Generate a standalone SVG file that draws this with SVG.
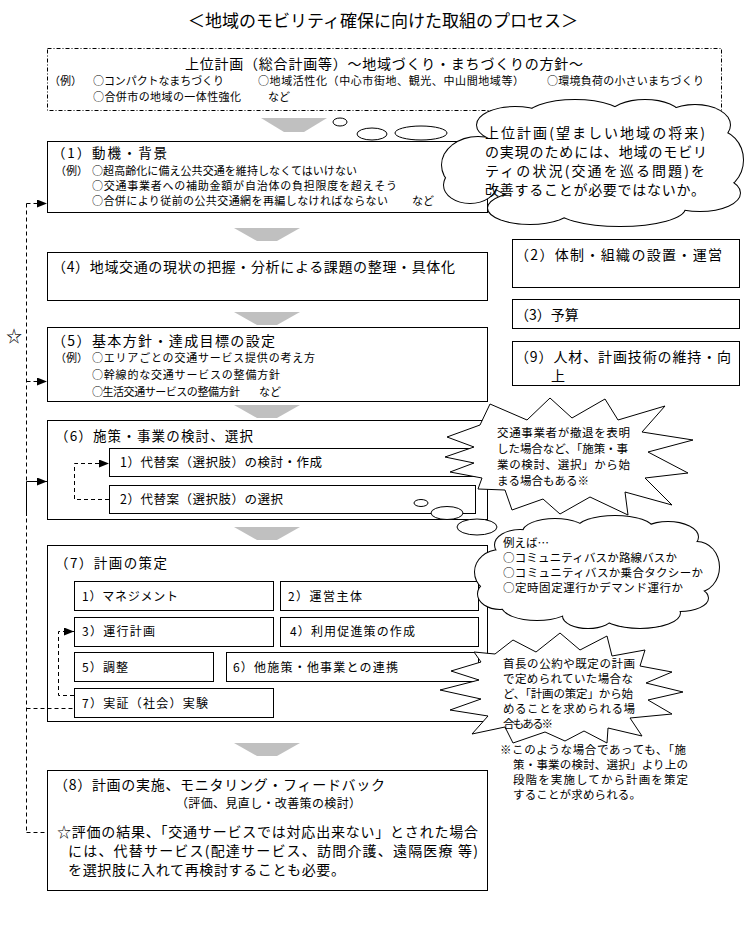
<svg xmlns="http://www.w3.org/2000/svg" xmlns:xlink="http://www.w3.org/1999/xlink" width="753" height="928" viewBox="0 0 753 928">
<defs>
<style>
.t{font-family:"Noto Sans CJK JP","Noto Sans CJK SC",sans-serif;fill:#000}
.box{fill:#fff;stroke:#000;stroke-width:1}
.gray{fill:#c0c0c0}
.dash{fill:none;stroke:#000;stroke-width:1;stroke-dasharray:4 3}
.solid{fill:none;stroke:#000;stroke-width:1}
.h{font-size:13.5px}
.r{font-size:11px}
.s{font-size:12px}
.c{font-size:11.5px}
</style>
<marker id="ah" viewBox="0 0 10 8" refX="10" refY="4" markerWidth="10" markerHeight="8" markerUnits="userSpaceOnUse" orient="auto"><path d="M0,0 L10,4 L0,8 z" fill="#000"/></marker>
<g id="c1shape">
<ellipse cx="478" cy="165" rx="36" ry="28"/>
<ellipse cx="515" cy="125" rx="38" ry="18"/>
<ellipse cx="575" cy="118" rx="50" ry="18"/>
<ellipse cx="645" cy="115" rx="35" ry="15"/>
<ellipse cx="695" cy="125" rx="35" ry="20"/>
<ellipse cx="715" cy="160" rx="28" ry="30"/>
<ellipse cx="700" cy="193" rx="40" ry="18"/>
<ellipse cx="620" cy="208" rx="65" ry="18"/>
<ellipse cx="530" cy="208" rx="42" ry="16"/>
<ellipse cx="470" cy="185" rx="26" ry="18"/>
<ellipse cx="595" cy="163" rx="118" ry="48"/>
</g>
<g id="c2shape">
<ellipse cx="500" cy="572" rx="25" ry="22"/>
<ellipse cx="520" cy="545" rx="25" ry="15"/>
<ellipse cx="555" cy="532" rx="32" ry="13"/>
<ellipse cx="615" cy="529" rx="38" ry="13"/>
<ellipse cx="668" cy="537" rx="30" ry="15"/>
<ellipse cx="697" cy="567" rx="22" ry="25"/>
<ellipse cx="680" cy="598" rx="28" ry="13"/>
<ellipse cx="640" cy="613" rx="40" ry="15"/>
<ellipse cx="588" cy="616" rx="25" ry="12"/>
<ellipse cx="537" cy="606" rx="35" ry="14"/>
<ellipse cx="500" cy="594" rx="22" ry="15"/>
<ellipse cx="597" cy="572" rx="108" ry="38"/>
</g>
</defs>
<rect width="753" height="928" fill="#fff"/>

<text class="t" x="383" y="27" font-size="17" text-anchor="middle">＜地域のモビリティ確保に向けた取組のプロセス＞</text>

<g id="upper-plan">
<rect x="47.5" y="48.5" width="674" height="62" fill="#fff" stroke="#000" stroke-dasharray="4 2 1 2"/>
<text class="t" x="185" y="69" font-size="14" textLength="398">上位計画（総合計画等）～地域づくり・まちづくりの方針～</text>
<text class="t" x="49" y="85" font-size="11">（例）</text>
<text class="t" x="93" y="85" font-size="11" textLength="131">○コンパクトなまちづくり</text>
<text class="t" x="258" y="85" font-size="11" textLength="266">○地域活性化（中心市街地、観光、中山間地域等）</text>
<text class="t" x="547" y="85" font-size="11" textLength="157">○環境負荷の小さいまちづくり</text>
<text class="t" x="93" y="101" font-size="11" textLength="148">○合併市の地域の一体性強化</text>
<text class="t" x="268" y="101" font-size="11">など</text>
</g>

<g id="connectors">
<g id="flow-arrows">
<polygon class="gray" points="261,118 327,118 304,132 284,132"/>
<polygon class="gray" points="234,228 300,228 277,241 257,241"/>
<polygon class="gray" points="234,312 300,312 277,325 257,325"/>
<polygon class="gray" points="234,405 300,405 277,418 257,418"/>
<polygon class="gray" points="234,527 300,527 277,540 257,540"/>
<polygon class="gray" points="234,743 300,743 277,756 257,756"/>
</g>
</g>

<g id="step1">
<rect class="box" x="47.5" y="141.5" width="440" height="71"/>
<text class="t h" x="52" y="158" textLength="115">（1）動機・背景</text>
<text class="t r" x="55" y="175">（例）</text>
<text class="t r" x="92" y="175" textLength="265">○超高齢化に備え公共交通を維持しなくてはいけない</text>
<text class="t r" x="92" y="190" textLength="305">○交通事業者への補助金額が自治体の負担限度を超えそう</text>
<text class="t r" x="92" y="205" textLength="296">○合併により従前の公共交通網を再編しなければならない</text>
<text class="t r" x="412" y="205">など</text>
</g>

<g id="step4">
<rect class="box" x="47.5" y="252.5" width="440" height="48"/>
<text class="t" x="52" y="272" font-size="14" textLength="403">（4）地域交通の現状の把握・分析による課題の整理・具体化</text>
</g>

<g id="step5">
<rect class="box" x="47.5" y="327.5" width="440" height="74"/>
<text class="t" x="52" y="346" font-size="14" textLength="223">（5）基本方針・達成目標の設定</text>
<text class="t r" x="55" y="362">（例）</text>
<text class="t r" x="92" y="362" textLength="223">○エリアごとの交通サービス提供の考え方</text>
<text class="t r" x="92" y="379" textLength="188">○幹線的な交通サービスの整備方針</text>
<text class="t r" x="92" y="396" textLength="148">○生活交通サービスの整備方針</text>
<text class="t r" x="259" y="396">など</text>
</g>

<g id="step6">
<rect class="box" x="47.5" y="420.5" width="440" height="99"/>
<text class="t h" x="55" y="441" textLength="198">（6）施策・事業の検討、選択</text>
<g id="step6-1">
<rect class="box" x="109.5" y="448.5" width="366" height="28"/>
<text class="t" x="120" y="467" font-size="12.5" textLength="202">1）代替案（選択肢）の検討・作成</text>
</g>
<g id="step6-2">
<rect class="box" x="109.5" y="485.5" width="366" height="28"/>
<text class="t" x="120" y="504" font-size="12.5" textLength="163">2）代替案（選択肢）の選択</text>
</g>
</g>

<g id="step7">
<rect class="box" x="47.5" y="545.5" width="440" height="176"/>
<text class="t h" x="55" y="568" textLength="112">（7）計画の策定</text>
<g id="step7-1"><rect class="box" x="74.5" y="581.5" width="199" height="29"/><text class="t s" x="82" y="600.5" textLength="96">1）マネジメント</text></g>
<g id="step7-2"><rect class="box" x="280.5" y="581.5" width="198" height="29"/><text class="t s" x="288" y="600.5" textLength="74">2）運営主体</text></g>
<g id="step7-3"><rect class="box" x="74.5" y="617.5" width="199" height="29"/><text class="t s" x="82" y="636" textLength="73">3）運行計画</text></g>
<g id="step7-4"><rect class="box" x="280.5" y="617.5" width="198" height="29"/><text class="t s" x="290" y="636" textLength="125">4）利用促進策の作成</text></g>
<g id="step7-5"><rect class="box" x="74.5" y="652.5" width="139" height="29"/><text class="t s" x="82" y="671.5" textLength="46">5）調整</text></g>
<g id="step7-6"><rect class="box" x="226.5" y="652.5" width="252" height="29"/><text class="t s" x="233" y="671.5" textLength="165">6）他施策・他事業との連携</text></g>
<g id="step7-7"><rect class="box" x="74.5" y="688.5" width="199" height="29"/><text class="t s" x="82" y="707.5" textLength="126">7）実証（社会）実験</text></g>
</g>

<g id="step8">
<rect class="box" x="47.5" y="770.5" width="440" height="120"/>
<text class="t" x="54" y="790" font-size="14" textLength="331">（8）計画の実施、モニタリング・フィードバック</text>
<text class="t s" x="176" y="808" textLength="185">（評価、見直し・改善策の検討）</text>
<text class="t" x="57" y="837" font-size="14" textLength="421">☆評価の結果、「交通サービスでは対応出来ない」とされた場合</text>
<text class="t" x="68" y="856" font-size="14" textLength="410">には、代替サービス(配達サービス、訪問介護、遠隔医療 等)</text>
<text class="t" x="68" y="875" font-size="14" textLength="277">を選択肢に入れて再検討することも必要。</text>
</g>

<g id="step2">
<rect class="box" x="512.5" y="239.5" width="227" height="48"/>
<text class="t" x="515" y="260" font-size="14" textLength="207">（2）体制・組織の設置・運営</text>
</g>
<g id="step3">
<rect class="box" x="512.5" y="299.5" width="227" height="29"/>
<text class="t" x="515" y="320" font-size="14">（3）予算</text>
</g>
<g id="step9">
<rect class="box" x="512.5" y="341.5" width="227" height="44"/>
<text class="t" x="515" y="362" font-size="14" textLength="216">（9）人材、計画技術の維持・向</text>
<text class="t" x="551" y="381" font-size="14">上</text>
</g>

<g id="feedback-connectors">
<line class="dash" x1="26.5" y1="203.5" x2="26.5" y2="832.5"/>
<line class="solid" x1="26.5" y1="481.5" x2="26.5" y2="516"/>
<line class="dash" x1="26.5" y1="203.5" x2="47" y2="203.5" marker-end="url(#ah)"/>
<line class="dash" x1="26.5" y1="381.5" x2="47" y2="381.5" marker-end="url(#ah)"/>
<line class="solid" x1="26.5" y1="481.5" x2="47" y2="481.5" marker-end="url(#ah)"/>
<line class="dash" x1="26.5" y1="708.5" x2="74" y2="708.5"/>
<line class="dash" x1="26.5" y1="832.5" x2="47" y2="832.5"/>
<path class="dash" d="M109,499.5 H74.5 V463.5 H109" marker-end="url(#ah)"/>
<path class="dash" d="M74,695.5 H58.5 V631.5 H74" marker-end="url(#ah)"/>
</g>
<text id="star" class="t" x="14" y="342" font-size="16" text-anchor="middle">☆</text>

<g id="cloud1">
<ellipse cx="340" cy="122" rx="7" ry="4" fill="#fff" stroke="#000"/>
<ellipse cx="372" cy="134" rx="15" ry="6" fill="#fff" stroke="#000"/>
<ellipse cx="421" cy="133" rx="26" ry="7" fill="#fff" stroke="#000"/>
<use xlink:href="#c1shape" fill="#fff" stroke="#000" stroke-width="2"/>
<use xlink:href="#c1shape" fill="#fff" stroke="none"/>
<text class="t" x="485" y="138" font-size="14" textLength="220">上位計画(望ましい地域の将来)</text>
<text class="t" x="485" y="157" font-size="14" textLength="222">の実現のためには、地域のモビリ</text>
<text class="t" x="485" y="176" font-size="14" textLength="220">ティの状況(交通を巡る問題)を</text>
<text class="t" x="485" y="195" font-size="14" textLength="220">改善することが必要ではないか。</text>
</g>

<g id="burst1">
<polygon fill="#fff" stroke="#000" points="490,404 527,420 550,398 572,418 605,399 618,420 665,406 642,432 693,440 648,452 688,473 645,478 672,505 625,492 628,515 590,497 560,514 543,499 512,510 505,490 478,489 482,478 450,472 474,463 445,457 474,447 447,437 480,425"/>
<text class="t c" x="497" y="436.5" textLength="133">交通事業者が撤退を表明</text>
<text class="t c" x="497" y="452.5" textLength="131">した場合など、「施策・事</text>
<text class="t c" x="497" y="468.5" textLength="133">業の検討、選択」から始</text>
<text class="t c" x="497" y="484.5">まる場合もある※</text>
</g>

<g id="cloud2">
<ellipse cx="421" cy="503" rx="7" ry="3.5" fill="#fff" stroke="#000"/>
<ellipse cx="447" cy="513" rx="16" ry="6.5" fill="#fff" stroke="#000"/>
<ellipse cx="477" cy="527" rx="20" ry="8" fill="#fff" stroke="#000"/>
<use xlink:href="#c2shape" fill="#fff" stroke="#000" stroke-width="2"/>
<use xlink:href="#c2shape" fill="#fff" stroke="none"/>
<text class="t c" x="503" y="547">例えば…</text>
<text class="t c" x="503" y="561.5" textLength="174">○コミュニティバスか路線バスか</text>
<text class="t c" x="503" y="576.5" textLength="200">○コミュニティバスか乗合タクシーか</text>
<text class="t c" x="503" y="591.5" textLength="180">○定時固定運行かデマンド運行か</text>
</g>

<g id="burst2">
<polygon fill="#fff" stroke="#000" points="513,640 536,652 560,633 580,650 607,636 612,656 645,650 640,666 672,672 646,683 683,692 648,700 672,714 630,718 642,736 608,728 607,743 584,731 565,741 545,732 513,743 505,727 472,734 488,716 450,710 481,699 440,690 479,680 451,671 481,662 474,652 495,654"/>
<text class="t c" x="503" y="667.5" textLength="132">首長の公約や既定の計画</text>
<text class="t c" x="503" y="682.5" textLength="130">で定められていた場合な</text>
<text class="t c" x="503" y="697.5" textLength="130">ど、「計画の策定」から始</text>
<text class="t c" x="503" y="712.5" textLength="132">めることを求められる場</text>
<text class="t c" x="503" y="727.5" textLength="50">合もある※</text>
</g>

<g id="note">
<text class="t c" x="500" y="754" textLength="186">※このような場合であっても、「施</text>
<text class="t c" x="513" y="769" textLength="175">策・事業の検討、選択」より上の</text>
<text class="t c" x="513" y="784" textLength="175">段階を実施してから計画を策定</text>
<text class="t c" x="513" y="799" textLength="128">することが求められる。</text>
</g>
</svg>
